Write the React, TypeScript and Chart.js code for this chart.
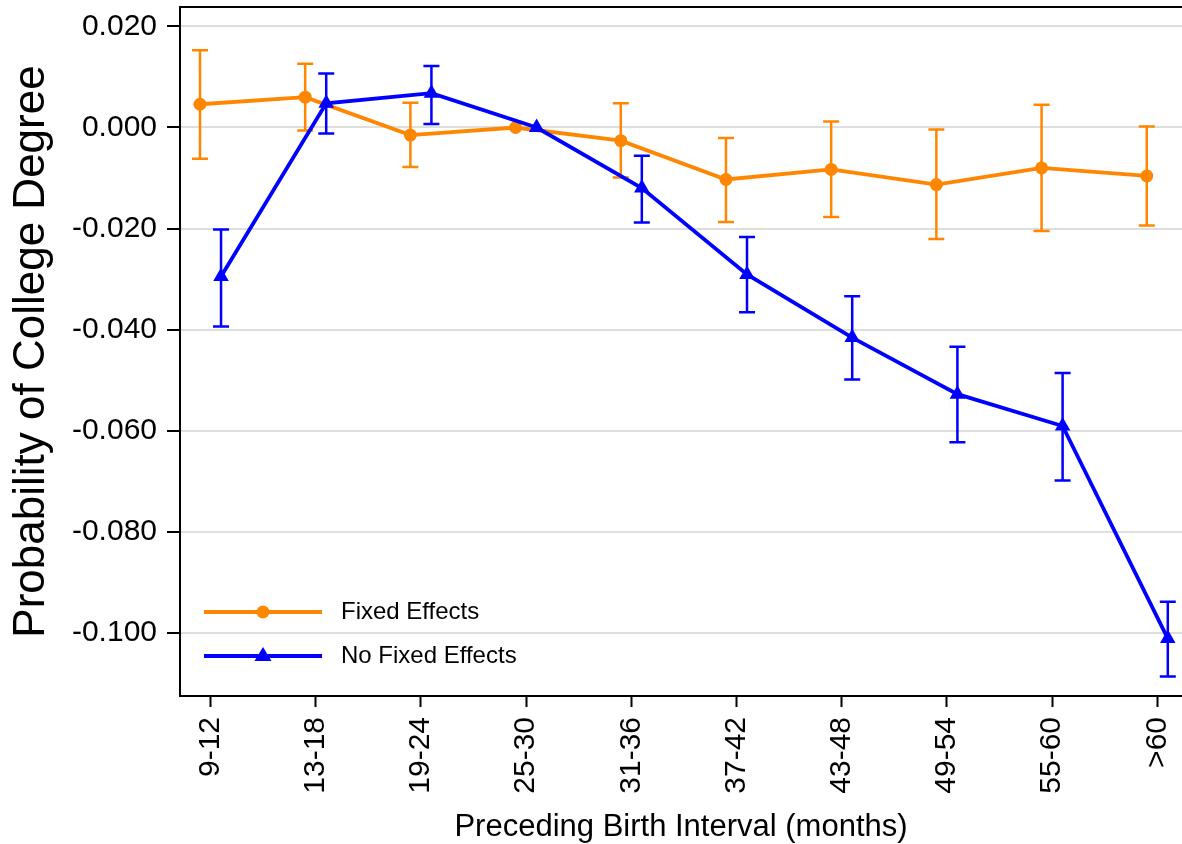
import React, { useEffect, useRef } from "react";
import { Chart, registerables } from "chart.js";

Chart.register(...registerables);

// ---- data ----
const categories = ["9-12", "13-18", "19-24", "25-30", "31-36", "37-42", "43-48", "49-54", "55-60", ">60"];
const yTickValues = [0.02, 0, -0.02, -0.04, -0.06, -0.08, -0.1];

const feValues = [0.0046, 0.006, -0.0015, 0.0, -0.0026, -0.0103, -0.0083, -0.0113, -0.008, -0.0096];
const feUpper = [0.0153, 0.0126, 0.0049, null, 0.0048, -0.0021, 0.0012, -0.0004, 0.0045, 0.0002];
const feLower = [-0.0062, -0.0006, -0.0078, null, -0.0099, -0.0187, -0.0177, -0.0221, -0.0205, -0.0194];

const nfeValues = [-0.0295, 0.0048, 0.0068, 0.0, -0.012, -0.0291, -0.0416, -0.0528, -0.0591, -0.1012];
const nfeUpper = [-0.0202, 0.0107, 0.0122, null, -0.0056, -0.0217, -0.0334, -0.0434, -0.0486, -0.0939];
const nfeLower = [-0.0394, -0.0012, 0.0007, null, -0.0188, -0.0366, -0.0499, -0.0623, -0.0699, -0.1087];

const seriesNames = ["Fixed Effects", "No Fixed Effects"];

// ---- styles ----
const FONT = "'Liberation Sans', Arial, Helvetica, sans-serif";
const ORANGE = "#ff8600";
const BLUE = "#0000ff";
const DODGE = 0.1;
const X_MIN = -0.29;
const X_MAX = 9.235;
const Y_MIN = -0.11257;
const Y_MAX = 0.02386;

const errorBarPlugin = {
  id: "errorBars",
  beforeDatasetsDraw(chart: any) {
    const { ctx, scales } = chart;
    const xs = scales.x;
    const ys = scales.y;
    const sets = [
      { lower: feLower, upper: feUpper, off: -DODGE, color: ORANGE },
      { lower: nfeLower, upper: nfeUpper, off: DODGE, color: BLUE },
    ];
    ctx.save();
    for (const s of sets) {
      ctx.strokeStyle = s.color;
      ctx.lineWidth = 2.5;
      for (let i = 0; i < categories.length; i++) {
        const lo = s.lower[i];
        const hi = s.upper[i];
        if (lo == null || hi == null) continue;
        const x = xs.getPixelForValue(i + s.off);
        const y1 = ys.getPixelForValue(lo);
        const y2 = ys.getPixelForValue(hi);
        ctx.beginPath();
        ctx.moveTo(x, y1);
        ctx.lineTo(x, y2);
        ctx.moveTo(x - 8, y1);
        ctx.lineTo(x + 8, y1);
        ctx.moveTo(x - 8, y2);
        ctx.lineTo(x + 8, y2);
        ctx.stroke();
      }
    }
    ctx.restore();
  },
};

const framePlugin = {
  id: "frameAndLegend",
  afterDraw(chart: any) {
    const { ctx, chartArea } = chart;
    const { left, right, top, bottom } = chartArea;
    ctx.save();
    // top frame line
    ctx.strokeStyle = "#000";
    ctx.lineWidth = 2;
    ctx.beginPath();
    ctx.moveTo(left, top);
    ctx.lineTo(right, top);
    ctx.stroke();

    // legend
    const rows = [
      { name: seriesNames[0], color: ORANGE, marker: "circle", y: bottom - 84 },
      { name: seriesNames[1], color: BLUE, marker: "triangle", y: bottom - 40 },
    ];
    const x0 = left + 24;
    const x1 = left + 142;
    const xm = left + 83;
    for (const r of rows) {
      ctx.strokeStyle = r.color;
      ctx.fillStyle = r.color;
      ctx.lineWidth = 3.8;
      ctx.beginPath();
      ctx.moveTo(x0, r.y);
      ctx.lineTo(x1, r.y);
      ctx.stroke();
      ctx.beginPath();
      if (r.marker === "circle") {
        ctx.arc(xm, r.y, 6.5, 0, Math.PI * 2);
      } else {
        ctx.moveTo(xm, r.y - 9);
        ctx.lineTo(xm + 8.5, r.y + 5);
        ctx.lineTo(xm - 8.5, r.y + 5);
        ctx.closePath();
      }
      ctx.fill();
      ctx.fillStyle = "#000";
      ctx.font = `24px ${FONT}`;
      ctx.textAlign = "left";
      ctx.textBaseline = "middle";
      ctx.fillText(r.name, left + 161, r.y);
    }
    ctx.restore();
  },
};

export default function App() {
  const canvasRef = useRef<HTMLCanvasElement | null>(null);

  useEffect(() => {
    const canvas = canvasRef.current;
    if (!canvas) return;
    const chart = new Chart(canvas, {
      type: "line",
      data: {
        datasets: [
          {
            label: seriesNames[0],
            data: feValues.map((v, i) => ({ x: i - DODGE, y: v })),
            borderColor: ORANGE,
            backgroundColor: ORANGE,
            borderWidth: 3.8,
            pointStyle: "circle",
            pointRadius: 6.5,
            pointBorderWidth: 0,
            pointBackgroundColor: ORANGE,
            tension: 0,
            order: 2,
          },
          {
            label: seriesNames[1],
            data: nfeValues.map((v, i) => ({ x: i + DODGE, y: v })),
            borderColor: BLUE,
            backgroundColor: BLUE,
            borderWidth: 3.8,
            pointStyle: "triangle",
            pointRadius: 9,
            pointBorderWidth: 0,
            pointBackgroundColor: BLUE,
            tension: 0,
            order: 1,
          },
        ],
      },
      options: {
        animation: false,
        responsive: false,
        maintainAspectRatio: false,
        layout: { autoPadding: false, padding: { top: 7, left: 0, right: 0, bottom: 0 } },
        plugins: {
          legend: { display: false },
          tooltip: { enabled: false },
        },
        scales: {
          x: {
            type: "linear",
            min: X_MIN,
            max: X_MAX,
            afterBuildTicks: (s: any) => {
              s.ticks = categories.map((_, i) => ({ value: i }));
            },
            afterFit: (s: any) => {
              s.height = 148;
              s.paddingLeft = 0;
              s.paddingRight = 0;
            },
            ticks: {
              autoSkip: false,
              minRotation: 90,
              maxRotation: 90,
              padding: 10,
              color: "#000",
              font: { family: FONT, size: 30 },
              callback: (v: any) => categories[Math.round(Number(v))],
            },
            grid: {
              drawOnChartArea: false,
              drawTicks: true,
              tickLength: 11,
              tickColor: "#000",
              tickWidth: 2,
            },
            border: { display: true, color: "#000", width: 2 },
            title: {
              display: true,
              text: "Preceding Birth Interval (months)",
              color: "#000",
              font: { family: FONT, size: 31, lineHeight: 1 },
              padding: { top: 0, bottom: 1 },
            },
          },
          y: {
            type: "linear",
            min: Y_MIN,
            max: Y_MAX,
            afterBuildTicks: (s: any) => {
              s.ticks = yTickValues.map((v) => ({ value: v }));
            },
            afterFit: (s: any) => {
              s.width = 180;
              s.paddingTop = 0;
              s.paddingBottom = 0;
            },
            ticks: {
              padding: 10,
              color: "#000",
              font: { family: FONT, size: 30 },
              callback: (v: any) => Number(v).toFixed(3),
            },
            grid: {
              color: "#dedede",
              lineWidth: 2,
              drawTicks: true,
              tickLength: 13,
              tickColor: "#000",
              tickWidth: 2,
            },
            border: { display: true, color: "#000", width: 2 },
            title: {
              display: true,
              text: "Probability of College Degree",
              color: "#000",
              font: { family: FONT, size: 44, lineHeight: 1.2 },
              padding: { top: 5, bottom: 0 },
            },
          },
        },
      },
      plugins: [errorBarPlugin, framePlugin],
    } as any);
    return () => chart.destroy();
  }, []);

  return (
    <div style={{ position: "fixed", left: 0, top: 0, width: 1182, height: 844, background: "#fff" }}>
      <canvas ref={canvasRef} width={1182} height={844} style={{ display: "block", width: 1182, height: 844 }} />
    </div>
  );
}
